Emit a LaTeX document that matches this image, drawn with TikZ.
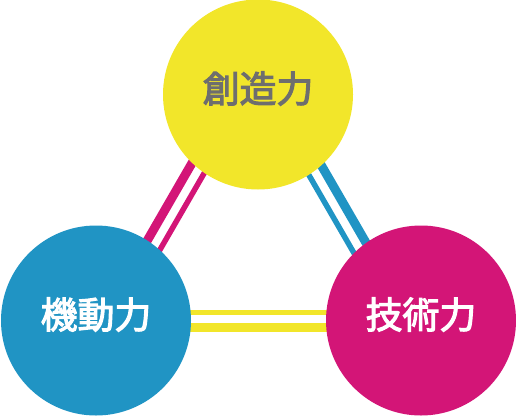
\documentclass[tikz,border=0pt]{standalone}
\usepackage{tikz, xcolor}
\usepackage{fontspec}
\usetikzlibrary{backgrounds}
\newfontfamily\cjk{Noto Sans CJK JP}[FakeBold=3]
\newcommand{\pxsize}{1bp}
\newcommand{\lift}[1]{\raisebox{-8bp}[0pt][0pt]{#1}}
\definecolor{kiiro}{HTML}{F2E62A}
\definecolor{aoiro}{HTML}{2094C4}
\definecolor{akairo}{HTML}{D31577}
\definecolor{haiiro}{HTML}{6E6E6E}

\begin{document}
\begin{tikzpicture}
\useasboundingbox (0,0) rectangle (516*\pxsize,416*\pxsize);
\tikzstyle{every node}=[circle,
			minimum size = 190*\pxsize,
			inner sep=0pt,
			font=\cjk\fontsize{37}{37}\selectfont
			]
\tikzstyle{thickbar}=[line width=9*\pxsize]
\tikzstyle{thinbar}=[line width=5.5*\pxsize]


\node[fill=kiiro, text=haiiro] (souzou) at (258*\pxsize,321.5*\pxsize) {\lift{創造力}};
        

\node[fill=aoiro, text=white] (kidou) at (96*\pxsize,95.5*\pxsize) {\lift{機動力}};
        

\node[fill=akairo, text=white] (gijutsu) at (421*\pxsize,95.5*\pxsize) {\lift{技術力}};
        

\begin{pgfonlayer}{background}
\draw[thickbar, akairo] ([xshift=-26.4*\pxsize]souzou.center) -- ([xshift=5.1*\pxsize]kidou.center);
    

\draw[thinbar, akairo] ([xshift=-8.4*\pxsize]souzou.center) -- ([xshift=23.1*\pxsize]kidou.center);
    

\draw[thinbar, aoiro] ([xshift=4.4*\pxsize]souzou.center) -- ([xshift=-28.1*\pxsize]gijutsu.center);
    

\draw[thickbar, aoiro] ([xshift=22.4*\pxsize]souzou.center) -- ([xshift=-10.1*\pxsize]gijutsu.center);
    

\draw[thinbar, kiiro] ([yshift=8*\pxsize]kidou.center) -- ([yshift=8*\pxsize]gijutsu.center);
    

\draw[thickbar, kiiro] ([yshift=-6.5*\pxsize]kidou.center) -- ([yshift=-6.5*\pxsize]gijutsu.center);
\end{pgfonlayer}
\end{tikzpicture}
\end{document}
